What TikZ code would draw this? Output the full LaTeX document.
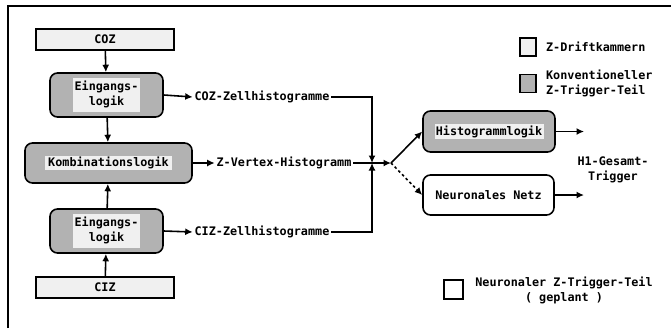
\documentclass[tikz,border=0pt]{standalone}
\usepackage{fontspec}
\setmonofont{DejaVu Sans Mono}
\usetikzlibrary{positioning,arrows.meta}
\newcommand{\hlbox}[1]{{\setlength{\fboxsep}{1.5pt}\colorbox{gray!12}{#1}}}

\begin{document}
\begin{tikzpicture}[
  x=0.04cm, y=-0.04cm,
  every node/.style={font=\ttfamily\bfseries\fontsize{13.4}{17}\selectfont},
  chamber/.style={rectangle, draw, line width=1.8pt, fill=gray!12, minimum width=5.52cm, minimum height=0.84cm},
  logic/.style={rounded corners=0.3cm, draw, line width=1.8pt, fill=gray!60, align=center, minimum height=1.76cm},
  netlogic/.style={rounded corners=0.3cm, draw, line width=1.8pt, fill=white, minimum width=5.24cm, minimum height=1.6cm},
  swatch/.style={rectangle, draw, line width=1.6pt, minimum width=0.64cm, minimum height=0.72cm},
  arrow/.style={-{Latex[length=3mm, width=2.8mm]}, line width=1.8pt},
  label/.style={inner sep=2pt},
]
\useasboundingbox (0,0) rectangle (671,328);

% === frame ===
\draw[line width=1.6pt] (8,328) -- (8,6) -- (671,6);

% === chambers and input logic ===
\node[chamber] (coz) at (105,39.5) {COZ};
\node[logic, minimum width=4.52cm] (eino) at (106.5,95) {\hlbox{\begin{tabular}{@{}c@{}}Eingangs-\\[1pt]logik\end{tabular}}};
\node[logic, minimum width=6.68cm, minimum height=1.6cm] (komb) at (108.5,163) {\hlbox{\,Kombinationslogik\,}};
\node[logic, minimum width=4.52cm] (einu) at (106.5,231) {\hlbox{\begin{tabular}{@{}c@{}}Eingangs-\\[1pt]logik\end{tabular}}};
\node[chamber] (ciz) at (105,287.5) {CIZ};

\draw[arrow] (coz) -- (eino);
\draw[arrow] (eino) -- (komb);
\draw[arrow] (ciz) -- (einu);
\draw[arrow] (einu) -- (komb);

% === histograms ===
\node[label] (cozh) at (262,97) {COZ-Zellhistogramme};
\node[label] (vtx) at (284,163) {Z-Vertex-Histogramm};
\node[label] (cizh) at (262,232) {CIZ-Zellhistogramme};
\coordinate (jn) at (372,163);
\coordinate (sp) at (391,163);

\draw[arrow] (eino.east) -- (cozh.west);
\draw[arrow] (komb.east) -- (vtx.west);
\draw[arrow] (einu.east) -- (cizh.west);
\draw[arrow] (cozh.east) -| (jn);
\draw[arrow] (cizh.east) -| (jn);
\draw[arrow] (vtx.east) -- (sp);

% === trigger logic ===
\node[logic, minimum width=5.28cm, minimum height=1.64cm] (hist) at (489,131.5) {\hlbox{Histogrammlogik}};
\node[netlogic] (netz) at (488.5,195) {Neuronales Netz};
\coordinate (hout) at (584,131.5);
\coordinate (nout) at (584,195);

\draw[arrow] (sp) -- (hist.west);
\draw[arrow, dashed] (sp) -- (netz.west);
\draw[arrow] (hist.east) -- (hout);
\draw[arrow] (netz.east) -- (nout);

\node[label, align=center] (trig) at (613,170) {H1-Gesamt-\\Trigger};

% === legend ===
\node[swatch, fill=gray!12] (lgdrift) at (528,47) {};
\node[label, anchor=west, right=0.3cm of lgdrift] {Z-Driftkammern};
\node[swatch, fill=gray!60] (lgkonv) at (528,83.5) {};
\node[label, anchor=west, align=left, right=0.3cm of lgkonv] {Konventioneller\\Z-Trigger-Teil};
\node[swatch, minimum width=0.76cm, minimum height=0.76cm] (lgneuro) at (453.5,289.5) {};
\node[label, align=center] (lgneurotxt) at (564,290) {Neuronaler Z-Trigger-Teil\\( geplant )};

\end{tikzpicture}
\end{document}
